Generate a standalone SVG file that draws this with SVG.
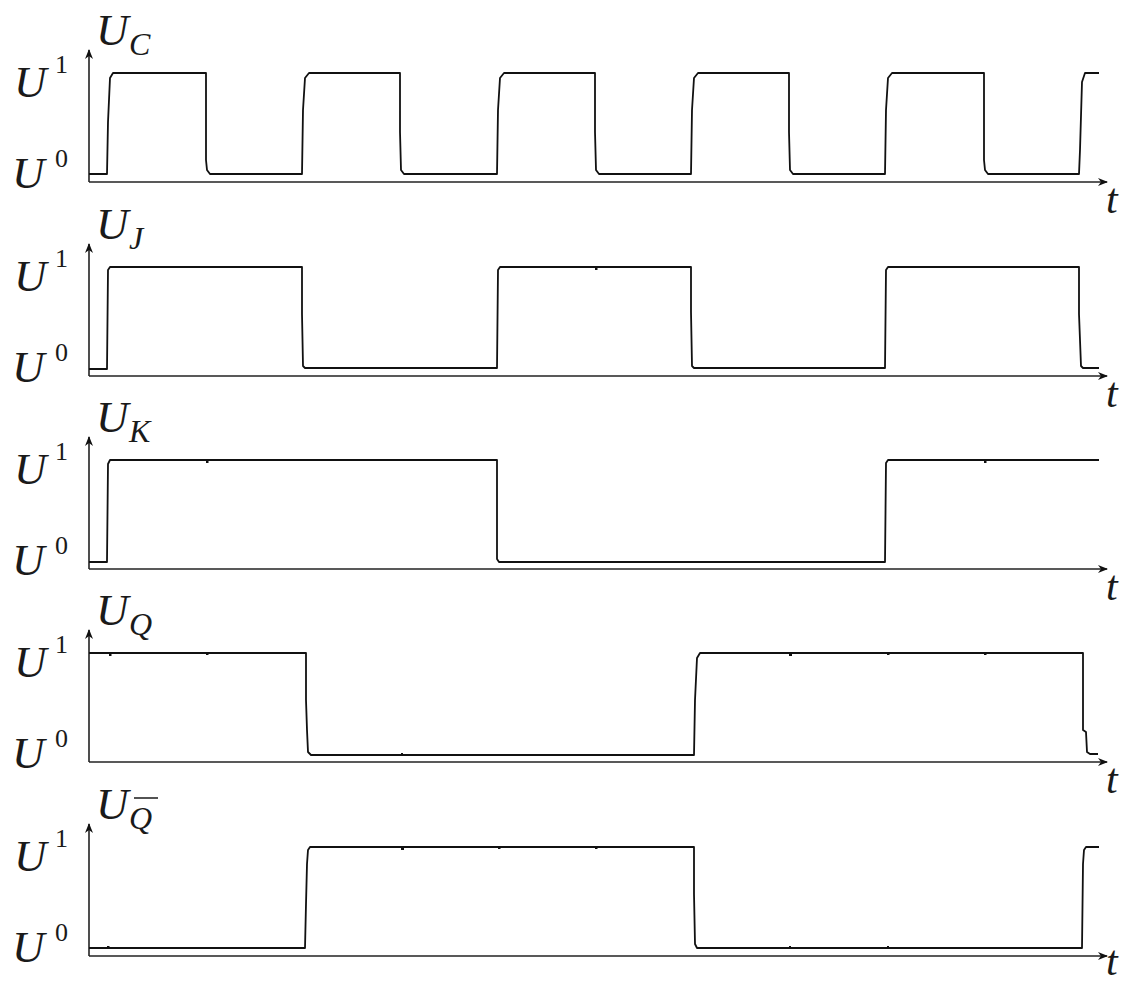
<svg xmlns="http://www.w3.org/2000/svg" width="1123" height="986" viewBox="0 0 1123 986">
<style>
.ax{fill:none;stroke:#222;stroke-width:1.6}
.w{fill:none;stroke:#111;stroke-width:1.8;stroke-linejoin:round}
.U{font-family:"Liberation Serif","Times New Roman",serif;font-style:italic;font-size:45px;fill:#1a1a1a}
.sub{font-family:"Liberation Serif","Times New Roman",serif;font-style:italic;font-size:32px;fill:#1a1a1a}
.sup{font-family:"Liberation Serif","Times New Roman",serif;font-size:26px;fill:#1a1a1a}
.t{font-family:"Liberation Serif","Times New Roman",serif;font-style:italic;font-size:42px;fill:#1a1a1a}
.g{fill:#111}
</style>
<defs>
<marker id="ah" viewBox="0 0 10 8" refX="9" refY="4" markerWidth="10" markerHeight="8" markerUnits="userSpaceOnUse" orient="auto">
<path d="M0,0 L10,4 L0,8 L3,4 Z" fill="#111"/>
</marker>
<g id="labels01">
<text class="U" x="14" y="97">U</text><text class="sup" x="55" y="73">1</text>
<text class="U" x="12" y="188">U</text><text class="sup" x="55" y="167">0</text>
</g>
</defs>

<g id="panel-C">
<use href="#labels01"/>
<text class="U" x="96" y="45">U</text><text class="sub" x="129" y="55">C</text>
<text class="t" x="1106" y="213">t</text>
<g class="axes">
<path class="ax" d="M89,182 V50" marker-end="url(#ah)"/>
<path class="ax" d="M89,182 H1107" marker-end="url(#ah)"/>
</g>
<path class="w" d="M89,174 H107 L108,122 L110,78 L113,73 H206 V160 L207,170 L210,174 H302 L303,110 L305,78 L309,73 H400 V132 L401,170 L404,174 H497 L498,110 L500,78 L504,73 H595 V132 L596,170 L599,174 H691 L692,110 L694,78 L698,73 H789 V132 L790,170 L793,174 H885 L886,110 L888,78 L892,73 H984 V160 L985,170 L988,174 H1079 L1080,150 L1082,82 L1085,73 H1099"/>
</g>

<g id="panel-J" transform="translate(0,194)">
<use href="#labels01"/>
<text class="U" x="96" y="45">U</text><text class="sub" x="129" y="55">J</text>
<text class="t" x="1106" y="213">t</text>
<path class="ax" d="M89,182 V50" marker-end="url(#ah)"/>
<path class="ax" d="M89,182 H1107" marker-end="url(#ah)"/>
<path class="w" d="M89,175 H107 L108,76 L110,73 H302 V120 L303,172 L305,174 H497 L498,76 L500,73 H691 V118 L692,172 L694,174 H885 L886,76 L888,73 H1079 V120 L1081,172 L1083,174 H1099"/>
<rect class="g" x="595" y="73" width="2.5" height="3"/>
</g>

<g id="panel-K" transform="translate(0,387)">
<use href="#labels01"/>
<text class="U" x="96" y="45">U</text><text class="sub" x="129" y="55">K</text>
<text class="t" x="1106" y="213">t</text>
<path class="ax" d="M89,182 V50" marker-end="url(#ah)"/>
<path class="ax" d="M89,182 H1107" marker-end="url(#ah)"/>
<path class="w" d="M89,175 H107 L108,77 L110,73 H497 V172 L499,175 H885 L886,76 L888,73 H1099"/>
<rect class="g" x="206" y="73" width="2.5" height="3"/>
<rect class="g" x="984" y="73" width="2.5" height="3"/>
</g>

<g id="panel-Q" transform="translate(0,580)">
<use href="#labels01"/>
<text class="U" x="96" y="45">U</text><text class="sub" x="129" y="55">Q</text>
<text class="t" x="1106" y="213">t</text>
<path class="ax" d="M89,182 V50" marker-end="url(#ah)"/>
<path class="ax" d="M89,182 H1107" marker-end="url(#ah)"/>
<path class="w" d="M89,73 H306 V120 L307,150 L308,172 L311,175 H694 L695,120 L697,78 L700,73 H1083 V150 L1086,152 L1087,172 L1090,174 H1098"/>
<rect class="g" x="109" y="73" width="2.5" height="3"/>
<rect class="g" x="206" y="72" width="2.5" height="3"/>
<rect class="g" x="789" y="73" width="3" height="3"/>
<rect class="g" x="887" y="72" width="2.5" height="3"/>
<rect class="g" x="984" y="72" width="2.5" height="3"/>
<rect class="g" x="401" y="173" width="2" height="2"/>
</g>

<g id="panel-Qbar" transform="translate(0,774)">
<use href="#labels01"/>
<text class="U" x="96" y="45">U</text><text class="sub" x="129" y="55">Q</text>
<line x1="134" y1="24" x2="158" y2="24" stroke="#1a1a1a" stroke-width="1.5"/>
<text class="t" x="1106" y="201">t</text>
<path class="ax" d="M89,182 V50" marker-end="url(#ah)"/>
<path class="ax" d="M89,182 H1107" marker-end="url(#ah)"/>
<path class="w" d="M89,174 H305 L306,130 L307,90 L308,76 L310,73 H694 V120 L695,170 L697,174 H1082 L1083,90 L1084,76 L1086,73 H1099"/>
<rect class="g" x="401" y="73" width="3" height="3"/>
<rect class="g" x="498" y="72" width="2.5" height="3"/>
<rect class="g" x="595" y="72" width="2.5" height="3"/>
<rect class="g" x="107" y="172" width="2.5" height="2"/>
<rect class="g" x="789" y="172" width="2" height="2"/>
<rect class="g" x="887" y="172" width="2" height="2"/>
</g>
</svg>
